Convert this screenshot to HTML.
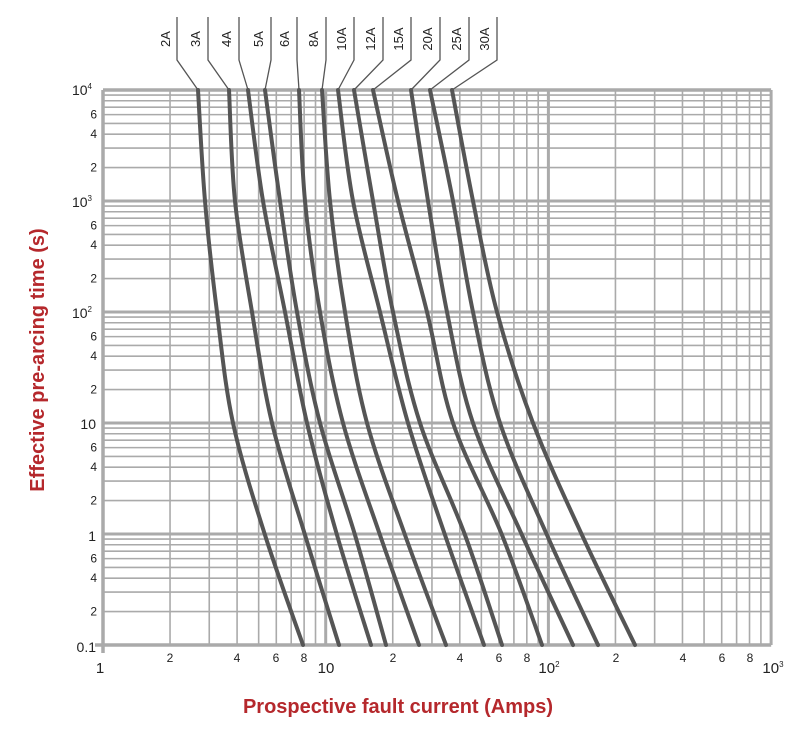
<!DOCTYPE html>
<html><head><meta charset="utf-8"><style>
html,body{margin:0;padding:0;background:#fff;}
svg{display:block;font-family:"Liberation Sans",Arial,sans-serif;}
</style></head><body>
<svg id="s" width="800" height="737" viewBox="0 0 800 737" xmlns="http://www.w3.org/2000/svg">
<g id="grid"></g>
<g id="curves" fill="none" stroke="#555" stroke-width="4" stroke-linecap="round"></g>
<g id="lead" fill="none" stroke="#555" stroke-width="1.3"></g>
<g font-size="13" fill="#222" text-anchor="middle">
<text transform="translate(170,39) rotate(-90)">2A</text>
<text transform="translate(200,39) rotate(-90)">3A</text>
<text transform="translate(231,39) rotate(-90)">4A</text>
<text transform="translate(263,39) rotate(-90)">5A</text>
<text transform="translate(289,39) rotate(-90)">6A</text>
<text transform="translate(318,39) rotate(-90)">8A</text>
<text transform="translate(346,39) rotate(-90)">10A</text>
<text transform="translate(375,39) rotate(-90)">12A</text>
<text transform="translate(403,39) rotate(-90)">15A</text>
<text transform="translate(432,39) rotate(-90)">20A</text>
<text transform="translate(461,39) rotate(-90)">25A</text>
<text transform="translate(489,39) rotate(-90)">30A</text>
</g>
<g font-size="12" fill="#222" text-anchor="end">
<text x="92" y="95" font-size="14">10<tspan font-size="8" dy="-6">4</tspan></text>
<text x="92" y="207" font-size="14">10<tspan font-size="8" dy="-6">3</tspan></text>
<text x="92" y="318" font-size="14">10<tspan font-size="8" dy="-6">2</tspan></text>
<text x="96" y="429" font-size="14">10</text>
<text x="96" y="541" font-size="14">1</text>
<text x="96" y="652" font-size="14">0.1</text>
</g>
<g id="ylab" font-size="12" fill="#222" text-anchor="end"></g>
<g font-size="12" fill="#222" text-anchor="middle">
<text x="170" y="662">2</text><text x="237" y="662">4</text><text x="276" y="662">6</text><text x="304" y="662">8</text>
<text x="393" y="662">2</text><text x="460" y="662">4</text><text x="499" y="662">6</text><text x="527" y="662">8</text>
<text x="616" y="662">2</text><text x="683" y="662">4</text><text x="722" y="662">6</text><text x="750" y="662">8</text>
<text x="100" y="673" font-size="15">1</text>
<text x="326" y="673" font-size="15">10</text>
<text x="549" y="673" font-size="15">10<tspan font-size="8" dy="-6">2</tspan></text>
<text x="773" y="673" font-size="15">10<tspan font-size="8" dy="-6">3</tspan></text>
</g>
<text x="398" y="713" font-size="20" font-weight="bold" fill="#b5282c" text-anchor="middle">Prospective fault current (Amps)</text>
<text transform="translate(44,360) rotate(-90)" font-size="20" font-weight="bold" fill="#b5282c" text-anchor="middle">Effective pre-arcing time (s)</text>
</svg>
<script>
var NS="http://www.w3.org/2000/svg";
function el(p,t,a){var e=document.createElementNS(NS,t);for(var k in a)e.setAttribute(k,a[k]);p.appendChild(e);return e;}
var X0=103,DX=222.7,Y0=645,DY=111;
function X(v){return X0+Math.log10(v)*DX;}
function Y(v){return Y0-(Math.log10(v)+1)*DY;}
var g=document.getElementById('grid');
// vertical
for(var d=0;d<3;d++)for(var m=1;m<=9;m++){var x=X(m*Math.pow(10,d));
 el(g,'line',{x1:x,y1:90,x2:x,y2:645,stroke:'#aaa','stroke-width':m==1?3:1.6});}
el(g,'line',{x1:X(1000),y1:90,x2:X(1000),y2:645,stroke:'#aaa','stroke-width':3});
// horizontal
for(var d=-1;d<4;d++)for(var m=1;m<=9;m++){var y=Y(m*Math.pow(10,d));
 el(g,'line',{x1:X0,y1:y,x2:X(1000),y2:y,stroke:'#aaa','stroke-width':m==1?3:1.6});}
el(g,'line',{x1:X0,y1:90,x2:X(1000),y2:90,stroke:'#aaa','stroke-width':3.5});
el(g,'line',{x1:X0-8,y1:645,x2:X(1000),y2:645,stroke:'#aaa','stroke-width':3.5});
el(g,'line',{x1:X0,y1:90,x2:X0,y2:653,stroke:'#aaa','stroke-width':3.5});
// y minor labels
var yl=document.getElementById('ylab');
for(var d=-1;d<3;d++){[6,4,2].forEach(function(m){var y=Y(m*Math.pow(10,d+1)/10*10);});}
for(var d=0;d<4;d++){[6,4,2].forEach(function(m){var y=Y(m*Math.pow(10,d));var t=el(yl,'text',{x:97,y:y+4});t.textContent=m;});}
for(var d=-1;d<0;d++){[6,4,2].forEach(function(m){var y=Y(m*Math.pow(10,d));var t=el(yl,'text',{x:97,y:y+4});t.textContent=m;});}
// curves
var ys=[90,201,312,423,535,645];
var D=[[198,205,217,233,265,303],[229,235,252,272,305,339],[248,263,285,307,337,371],[265,280,297,320,355,386],
[299,305,320,343,380,419],[322,330,345,367,405,446],[338,353,380,408,445,484],[354,373,393,420,465,502],
[373,398,427,453,502,542],[411,428,447,473,522,573],[430,453,473,500,547,598],[452,473,497,533,582,635]];
var cg=document.getElementById('curves');
D.forEach(function(r){var p=r.map(function(x,i){return[x,ys[i]];});
 var s='M'+p[0][0]+','+p[0][1];
 for(var i=0;i<p.length-1;i++){var a=p[i-1]||p[i],b=p[i],c=p[i+1],e=p[i+2]||c;
  s+=' C'+(b[0]+(c[0]-a[0])/6)+','+(b[1]+(c[1]-a[1])/6)+' '+(c[0]-(e[0]-b[0])/6)+','+(c[1]-(e[1]-b[1])/6)+' '+c[0]+','+c[1];}
 el(cg,'path',{d:s});});
// leaders
var lx=[177,208,239,271,297,326,354,383,411,440,469,497];
var lg=document.getElementById('lead');
lx.forEach(function(x,i){el(lg,'polyline',{points:x+',17 '+x+',60 '+D[i][0]+',90'});});
</script>
</body></html>
